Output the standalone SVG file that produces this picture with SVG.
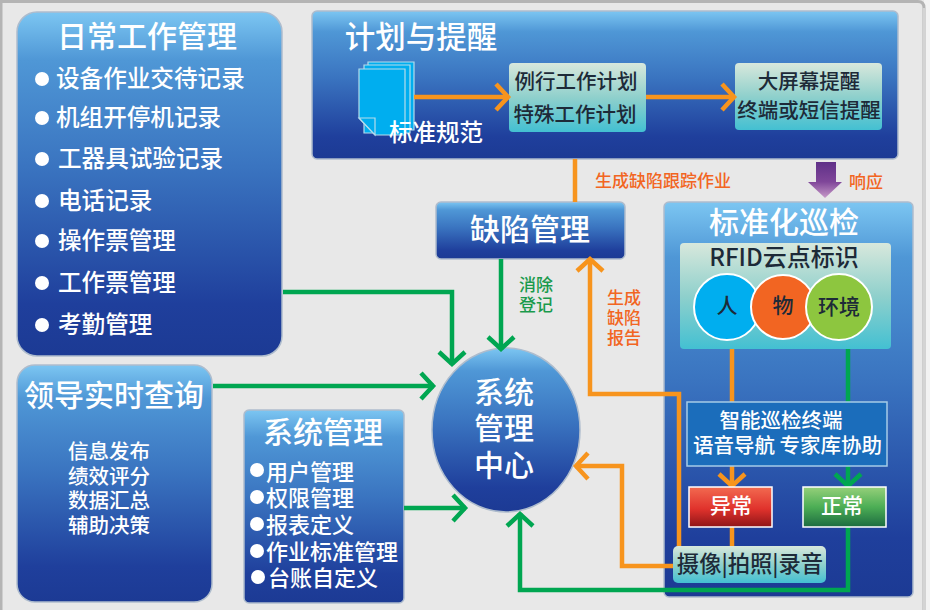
<svg xmlns="http://www.w3.org/2000/svg" width="930" height="610" viewBox="0 0 930 610">
<style>
text{font-family:"Noto Sans CJK SC","Noto Sans",sans-serif;font-weight:500;text-anchor:middle;dominant-baseline:central;transform:translateY(-2px)}
.w{fill:#fff}.d{fill:#1d2a38}.l{text-anchor:start}
.t{font-size:30px}.a{font-size:23.6px}.b{font-size:22px}.c{font-size:20.5px}
.lab{font-size:17px;font-weight:500}.og{fill:#f26522}.gr{fill:#1a9a4c}
.panel{fill:url(#blue);stroke:#aebccd;stroke-width:1.5}
.teal{fill:url(#teal)}
.o,.g{fill:none;stroke-width:4.5}
.o{stroke:#f7941d}.g{stroke:#00a651}
.doc{fill:#00aeef;stroke:#b5dcec;stroke-width:1.2}
.ring{stroke:#fff;stroke-width:2}
</style>
<defs>
<linearGradient id="blue" x1="0" y1="0" x2="0" y2="1"><stop offset="0" stop-color="#7cc6f2"/><stop offset=".14" stop-color="#4f97d6"/><stop offset=".45" stop-color="#3a74c0"/><stop offset=".85" stop-color="#1f3f9c"/><stop offset="1" stop-color="#1c3a94"/></linearGradient>
<linearGradient id="teal" x1="0" y1="0" x2="0" y2="1"><stop offset="0" stop-color="#d8e8dc"/><stop offset=".5" stop-color="#8fd0cc"/><stop offset="1" stop-color="#43c0d2"/></linearGradient>
<linearGradient id="red" x1="0" y1="0" x2="0" y2="1"><stop offset="0" stop-color="#f26a50"/><stop offset=".55" stop-color="#e0322c"/><stop offset="1" stop-color="#8e1518"/></linearGradient>
<linearGradient id="grn" x1="0" y1="0" x2="0" y2="1"><stop offset="0" stop-color="#96d07a"/><stop offset=".5" stop-color="#4cae55"/><stop offset="1" stop-color="#1c6b40"/></linearGradient>
<linearGradient id="pur" x1="0" y1="0" x2="0" y2="1"><stop offset="0" stop-color="#5f3088"/><stop offset=".55" stop-color="#7f4699"/><stop offset="1" stop-color="#c79ac8"/></linearGradient>
<marker id="ao" markerUnits="userSpaceOnUse" markerWidth="20" markerHeight="30" refX="15" refY="13" orient="auto" overflow="visible"><path d="M2 0 L14 13 L2 26" fill="none" stroke="#f7941d" stroke-width="4.5"/></marker>
<marker id="ag" markerUnits="userSpaceOnUse" markerWidth="20" markerHeight="30" refX="15" refY="13" orient="auto" overflow="visible"><path d="M2 0 L14 13 L2 26" fill="none" stroke="#00a651" stroke-width="4.5"/></marker>
</defs>
<rect width="930" height="610" fill="#e8e8e8"/>
<rect x="924" width="6" height="610" fill="#f3f3f3"/>
<path d="M1 610V1.5H918Q924 1.5 924 8V610" fill="none" stroke="#b4b4b4" stroke-width="3"/>
<path d="M924 8V610" fill="none" stroke="#d4d4d4" stroke-width="2"/>

<g id="node-daily">
<rect class="panel" x="17" y="12" width="265" height="344" rx="20"/>
<text class="w t" x="147" y="36">日常工作管理</text>
<g fill="#fff"><circle cx="42" cy="79" r="7"/><circle cx="42" cy="118" r="7"/><circle cx="42" cy="159" r="7"/><circle cx="42" cy="201" r="7"/><circle cx="42" cy="241" r="7"/><circle cx="42" cy="283" r="7"/><circle cx="42" cy="325" r="7"/></g>
<text class="w a l" x="56" y="79">设备作业交待记录</text>
<text class="w a l" x="56" y="118">机组开停机记录</text>
<text class="w a l" x="58" y="159">工器具试验记录</text>
<text class="w a l" x="58" y="201">电话记录</text>
<text class="w a l" x="58" y="241">操作票管理</text>
<text class="w a l" x="58" y="283">工作票管理</text>
<text class="w a l" x="58" y="325">考勤管理</text>
</g>

<g id="node-leader">
<rect class="panel" x="17" y="365" width="195" height="237" rx="18"/>
<text class="w t" x="114" y="395">领导实时查询</text>
<text class="w c" x="109" y="452">信息发布</text>
<text class="w c" x="109" y="477">绩效评分</text>
<text class="w c" x="109" y="501">数据汇总</text>
<text class="w c" x="109" y="526">辅助决策</text>
</g>

<g id="node-sysmgmt">
<rect class="panel" x="244" y="410" width="160" height="193" rx="5"/>
<text class="w t" x="323" y="432">系统管理</text>
<g fill="#fff"><circle cx="257" cy="470" r="7"/><circle cx="257" cy="497" r="7"/><circle cx="257" cy="524" r="7"/><circle cx="257" cy="551" r="7"/><circle cx="258" cy="577" r="7"/></g>
<text class="w b l" x="266" y="472">用户管理</text>
<text class="w b l" x="266" y="498">权限管理</text>
<text class="w b l" x="266" y="525">报表定义</text>
<text class="w b l" x="266" y="552">作业标准管理</text>
<text class="w b l" x="268" y="578">台账自定义</text>
</g>

<g id="node-plan">
<rect class="panel" x="312" y="11" width="586" height="148" rx="5"/>
<text class="w" font-size="30.5" x="421" y="37">计划与提醒</text>
<path class="doc" d="M368 62H414V130H368Z"/>
<path class="doc" d="M364 65H410V133H364Z"/>
<path class="doc" d="M359 69H405V135H375L359 118Z"/>
<path class="doc" d="M359 118H375V135Z"/>
<text class="w" font-size="23.5" x="436" y="133">标准规范</text>
<rect class="teal" x="509" y="63" width="137" height="69" rx="4"/>
<text class="d c" x="576" y="82">例行工作计划</text>
<text class="d c" x="575" y="115">特殊工作计划</text>
<rect class="teal" x="735" y="63" width="147" height="67" rx="4"/>
<text class="d c" x="809" y="82">大屏幕提醒</text>
<text class="d c" x="809" y="111">终端或短信提醒</text>
</g>

<g id="node-defect">
<rect class="panel" x="436" y="202" width="189" height="57" rx="5"/>
<text class="w t" x="530" y="229">缺陷管理</text>
</g>

<g id="node-inspect">
<rect class="panel" x="664" y="202" width="249" height="395" rx="5"/>
<text class="w t" x="784" y="222">标准化巡检</text>
</g>

<g id="node-center">
<ellipse cx="506" cy="430" rx="74" ry="82" fill="url(#blue)" stroke="#aebccd" stroke-width="1.5"/>
<text class="w t" x="504" y="392">系统</text>
<text class="w t" x="504" y="428">管理</text>
<text class="w t" x="504" y="465">中心</text>
</g>

<g id="connectors">
<path class="o" d="M575 159V202"/>
<path class="o" d="M414 97H509" marker-end="url(#ao)"/>
<path class="o" d="M646 97H735" marker-end="url(#ao)"/>
<path d="M816 162H836V182H842L825 198L808 182H816Z" fill="url(#pur)"/>
<path class="g" d="M283 292H452V365" marker-end="url(#ag)"/>
<path class="g" d="M501 259V350" marker-end="url(#ag)"/>
<path class="g" d="M213 386H434" marker-end="url(#ag)"/>
<path class="g" d="M404 508H466" marker-end="url(#ag)"/>
<path class="o" d="M732 349V402"/>
<path class="g" d="M848 349V402"/>
<path class="o" d="M732 466V487" marker-end="url(#ao)"/>
<path class="g" d="M848 466V487" marker-end="url(#ag)"/>
<path class="o" d="M732 527V547"/>
<path class="o" d="M679 546V394H590V258" marker-end="url(#ao)"/>
<path class="o" d="M673 566H622V466H575" marker-end="url(#ao)"/>
<path class="g" d="M848 527V590H520V513" marker-end="url(#ag)"/>
</g>

<g id="node-rfid">
<rect class="teal" x="680" y="243" width="211" height="106" rx="4"/>
<text class="d" font-size="24" x="784" y="257">RFID云点标识</text>
<circle class="ring" cx="727" cy="307" r="33" fill="#00aeef"/>
<circle class="ring" cx="783" cy="307" r="32" fill="#f26522"/>
<circle class="ring" cx="839" cy="307" r="33" fill="#8dc63f"/>
<text class="d" font-size="21" x="727" y="306">人</text>
<text class="d" font-size="21" x="783" y="306">物</text>
<text class="d" font-size="21" x="839" y="307">环境</text>
</g>

<g id="node-terminal">
<rect x="687" y="402" width="200" height="64" fill="#1b6dbb" stroke="#a5cbe8" stroke-width="1.5"/>
<text class="w c" x="781" y="421">智能巡检终端</text>
<text class="w c" x="787.5" y="446" xml:space="preserve">语音导航 专家库协助</text>
</g>

<g id="node-abnormal">
<rect x="689" y="487" width="83" height="40" fill="url(#red)" stroke="#fff" stroke-width="1.5"/>
<text class="w" font-size="21" x="731" y="506">异常</text>
</g>

<g id="node-normal">
<rect x="803" y="487" width="83" height="40" fill="url(#grn)" stroke="#fff" stroke-width="1.5"/>
<text class="w" font-size="21" x="842" y="506">正常</text>
</g>

<g id="node-capture">
<rect class="teal" x="673" y="546" width="153" height="37" rx="5"/>
<text class="d" font-size="22.3" x="750" y="564">摄像|拍照|录音</text>
</g>

<g id="labels">
<text class="lab og" x="663" y="181">生成缺陷跟踪作业</text>
<text class="lab og" x="866" y="182">响应</text>
<text class="lab gr" x="536" y="285">消除</text>
<text class="lab gr" x="536" y="305">登记</text>
<text class="lab og" x="624" y="298">生成</text>
<text class="lab og" x="624" y="318">缺陷</text>
<text class="lab og" x="624" y="338">报告</text>
</g>
</svg>
